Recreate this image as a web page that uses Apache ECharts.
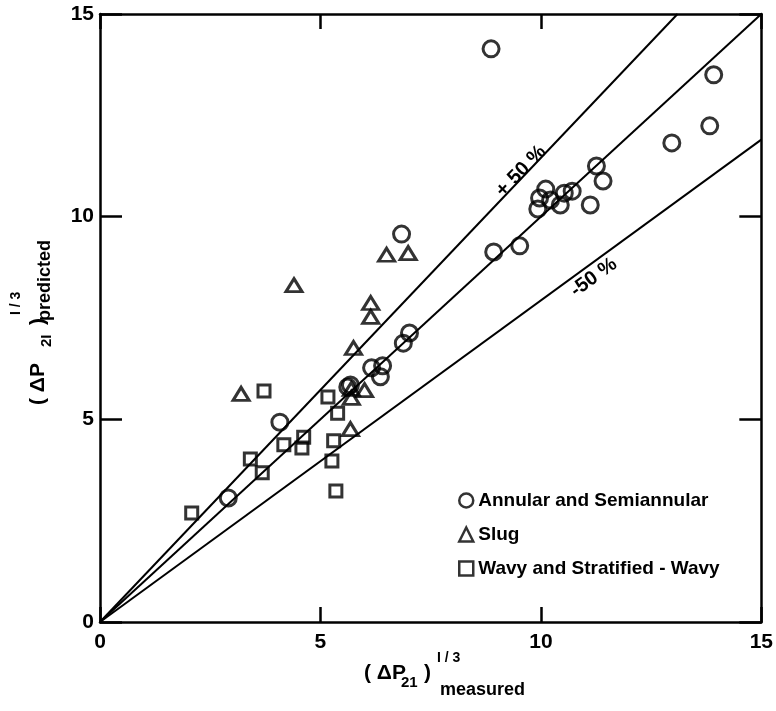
<!DOCTYPE html>
<html>
<head>
<meta charset="utf-8">
<script src="https://cdn.jsdelivr.net/npm/echarts@6/dist/echarts.min.js"></script>
<style>
  html, body { margin: 0; padding: 0; background: #fff; }
  #chart { width: 776px; height: 711px; }
</style>
</head>
<body>
<div id="chart"></div>
<script>
// points: [measured, predicted]
var annular = [
    [8.87, 14.14], [13.92, 13.5], [13.83, 12.24], [12.97, 11.82],
    [11.26, 11.25], [11.41, 10.88], [11.12, 10.29], [10.71, 10.63],
    [10.53, 10.58], [10.44, 10.29], [10.11, 10.68], [9.97, 10.46],
    [10.22, 10.41], [9.93, 10.19], [9.52, 9.28], [8.93, 9.13],
    [6.84, 9.57], [7.02, 7.13], [6.88, 6.88], [6.41, 6.32],
    [6.16, 6.27], [6.36, 6.05], [5.68, 5.85], [5.62, 5.8],
    [4.08, 4.93], [2.91, 3.06]
];
var slug = [
    [3.2, 5.63], [4.4, 8.31], [5.75, 6.76], [5.7, 5.75], [5.7, 5.53],
    [6.0, 5.72], [5.68, 4.76], [6.14, 7.53], [6.14, 7.87], [6.5, 9.06],
    [6.99, 9.1]
];
var wavy = [
    [3.72, 5.7], [5.17, 5.55], [5.39, 5.15], [4.62, 4.56], [4.58, 4.29],
    [4.17, 4.37], [3.41, 4.02], [3.68, 3.68], [2.08, 2.69], [5.3, 4.47],
    [5.26, 3.97], [5.35, 3.23]
];
// reference lines (end points)
var perfectLine = [[0, 0], [15, 15]];
var plusLine = [[0, 0], [13.1, 15]];
var minusLine = [[0, 0], [15, 11.9]];
var plusLabelAt = [9.55, 11.12];
var minusLabelAt = [11.2, 8.5];

var seriesNames = ['Annular and Semiannular', 'Slug', 'Wavy and Stratified - Wavy'];

var FONT = '"Liberation Sans", Arial, sans-serif';

var chart = echarts.init(document.getElementById('chart'), null, { renderer: 'canvas' });

function refLine(data, label, at, rot) {
    var s = {
        type: 'line',
        data: data,
        symbol: 'none',
        silent: true,
        z: 1,
        lineStyle: { color: '#000', width: 2 }
    };
    if (label) {
        s.markPoint = {
            symbol: 'circle',
            symbolSize: 1,
            silent: true,
            itemStyle: { color: 'rgba(0,0,0,0)' },
            data: [{ coord: at, value: label }],
            label: {
                show: true,
                position: 'inside',
                formatter: label,
                rotate: rot,
                color: '#000',
                fontFamily: FONT,
                fontWeight: 'bold',
                fontSize: 20
            }
        };
    }
    return s;
}

function pointStyle() {
    return { color: 'rgba(0,0,0,0)', borderColor: '#000', borderWidth: 3 };
}

function axis(type, pos, len, labels) {
    return {
        type: 'value', min: 0, max: 15, interval: 5, position: pos,
        axisLine: { onZero: false, lineStyle: { color: '#000', width: 2.5 } },
        axisTick: { inside: true, length: len, lineStyle: { color: '#000', width: 2.5 } },
        splitLine: { show: false },
        axisLabel: {
            show: labels,
            margin: type === 'x' ? 10 : 6,
            color: '#000', fontFamily: FONT, fontWeight: 'bold', fontSize: 21
        }
    };
}

var option = {
    backgroundColor: '#fff',
    animation: false,
    grid: { left: 100, right: 11, top: 14, bottom: 89 },
    legend: {
        data: seriesNames,
        orient: 'vertical',
        left: 453,
        top: 486,
        itemWidth: 14,
        itemHeight: 14,
        itemGap: 15,
        itemStyle: { borderWidth: 2.5, borderColor: '#000', color: 'rgba(0,0,0,0)' },
        textStyle: { color: '#000', fontFamily: FONT, fontWeight: 'bold', fontSize: 19 }
    },
    xAxis: [axis('x', 'bottom', 15, true), axis('x', 'top', 15, false)],
    yAxis: [axis('y', 'left', 22, true), axis('y', 'right', 22, false)],
    graphic: [
        // x axis title
        { type: 'text', left: 364, top: 663, style: { text: '( \u0394P', fill: '#000', font: 'bold 21px ' + FONT } },
        { type: 'text', left: 401, top: 675, style: { text: '21', fill: '#000', font: 'bold 15px ' + FONT } },
        { type: 'text', left: 424, top: 663, style: { text: ')', fill: '#000', font: 'bold 21px ' + FONT } },
        { type: 'text', left: 437, top: 651, style: { text: 'I / 3', fill: '#000', font: 'bold 14px ' + FONT } },
        { type: 'text', left: 440, top: 681, style: { text: 'measured', fill: '#000', font: 'bold 18px ' + FONT } },
        // y axis title, rotated
        {
            type: 'group', x: 28, y: 405, rotation: Math.PI / 2,
            children: [
                { type: 'text', x: 0, y: 0, style: { text: '( \u0394P', fill: '#000', font: 'bold 21px ' + FONT } },
                { type: 'text', x: 58, y: 11, style: { text: '2I', fill: '#000', font: 'bold 15px ' + FONT } },
                { type: 'text', x: 80, y: 0, style: { text: ')', fill: '#000', font: 'bold 21px ' + FONT } },
                { type: 'text', x: 90, y: -19, style: { text: 'I / 3', fill: '#000', font: 'bold 14px ' + FONT } },
                { type: 'text', x: 84, y: 8, style: { text: 'predicted', fill: '#000', font: 'bold 18px ' + FONT } }
            ]
        }
    ],
    series: [
        refLine(perfectLine),
        refLine(plusLine, '+ 50 %', plusLabelAt, 46),
        refLine(minusLine, '-50 %', minusLabelAt, 36),
        {
            name: seriesNames[0], type: 'scatter', data: annular,
            symbol: 'circle', symbolSize: 16, z: 3,
            itemStyle: pointStyle()
        },
        {
            name: seriesNames[1], type: 'scatter', data: slug,
            symbol: 'triangle', symbolSize: [16, 13], z: 3,
            itemStyle: pointStyle()
        },
        {
            name: seriesNames[2], type: 'scatter', data: wavy,
            symbol: 'rect', symbolSize: 12, z: 3,
            itemStyle: pointStyle()
        }
    ]
};

chart.setOption(option);
window.addEventListener('resize', function () {
    chart.resize();
});
</script>
</body>
</html>
